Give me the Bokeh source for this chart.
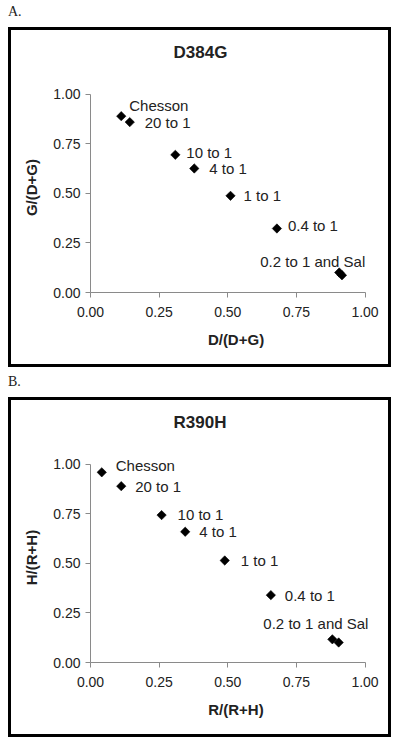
import math
from bokeh.plotting import figure
from bokeh.layouts import column
from bokeh.models import Div, Range1d, FixedTicker, NumeralTickFormatter, ColumnDataSource, LabelSet, Title
from bokeh.core.properties import value
from bokeh.embed import file_html
from bokeh.resources import INLINE

# ---------------- data ----------------
tick_values = [0.0, 0.25, 0.5, 0.75, 1.0]
point_names = ["Chesson", "20 to 1", "10 to 1", "4 to 1", "1 to 1", "0.4 to 1", "0.2 to 1", "Sal"]
point_labels = ["Chesson", "20 to 1", "10 to 1", "4 to 1", "1 to 1", "0.4 to 1", "0.2 to 1 and Sal", ""]

# Panel A: D384G
d_frac = [0.112, 0.143, 0.309, 0.378, 0.510, 0.679, 0.906, 0.916]
g_frac = [0.890, 0.860, 0.695, 0.626, 0.488, 0.323, 0.101, 0.087]

# Panel B: R390H
r_frac = [0.041, 0.112, 0.259, 0.345, 0.489, 0.657, 0.881, 0.904]
h_frac = [0.960, 0.890, 0.744, 0.660, 0.515, 0.340, 0.117, 0.101]

# label offsets in pixels (style, not data); dy positive = up
a_dx = [8, 15, 11, 15, 13, 11, -79, 0]
a_dy = [11, 0, 2, 0, 0, 3, 11, 0]
b_dx = [14, 14, 16, 14, 16, 14, -69, 0]
b_dy = [7, 0, 1, 0, 0, 0, 16, 0]

FONT = "Liberation Sans"
TXT = "#222222"


def make_panel(title, xlab, ylab, xs, ys, dx, dy):
    p = figure(width=383, height=340, output_backend="svg", toolbar_location=None,
               x_range=Range1d(0, 1.06), y_range=Range1d(0, 1.06),
               min_border_left=79, min_border_right=13, min_border_top=52, min_border_bottom=78,
               background_fill_color="white", border_fill_color="white", title=None)
    p.styles = {"border": "3px solid black"}
    p.margin = (0, 0, 0, 0)
    p.outline_line_color = None
    p.xgrid.visible = False
    p.ygrid.visible = False

    spacer = Title(text=" ", text_font_size="2px", standoff=17, text_color="white")
    p.add_layout(spacer, "above")
    t = Title(text=title, align="left", offset=83, standoff=0, text_font=FONT,
              text_font_size="17px", text_font_style="bold", text_color=TXT)
    p.add_layout(t, "above")

    for ax in (p.xaxis[0], p.yaxis[0]):
        ax.ticker = FixedTicker(ticks=tick_values)
        ax.formatter = NumeralTickFormatter(format="0.00")
        ax.bounds = (0, 1)
        ax.axis_line_color = "#8a8a8a"
        ax.major_tick_line_color = "#8a8a8a"
        ax.major_tick_out = 5
        ax.major_tick_in = 0
        ax.minor_tick_line_color = None
        ax.major_label_text_font = FONT
        ax.major_label_text_font_size = "14px"
        ax.major_label_text_color = TXT
        ax.axis_label_text_font = FONT
        ax.axis_label_text_font_size = "15px"
        ax.axis_label_text_font_style = "bold"
        ax.axis_label_text_color = TXT
    p.xaxis.axis_label = xlab
    p.yaxis.axis_label = ylab
    p.xaxis.major_label_standoff = 9
    p.yaxis.major_label_standoff = 5
    p.xaxis.axis_label_standoff = 11
    p.yaxis.axis_label_standoff = 10

    src = ColumnDataSource(dict(x=xs, y=ys, name=point_names, label=point_labels, dx=dx, dy=dy))
    p.scatter("x", "y", source=src, marker="square", size=6.6, angle=math.pi / 4,
              fill_color="black", line_color="black", line_width=0.6)
    labels = LabelSet(x="x", y="y", text="label", source=src, x_offset="dx", y_offset="dy",
                      text_font=value(FONT), text_font_size="15px", text_color=TXT,
                      text_align="left", text_baseline="middle")
    p.add_layout(labels)
    return p


pa = make_panel("D384G", "D/(D+G)", "G/(D+G)", d_frac, g_frac, a_dx, a_dy)
pb = make_panel("R390H", "R/(R+H)", "H/(R+H)", r_frac, h_frac, b_dx, b_dy)

div_style = {"font-family": "Liberation Serif", "font-size": "14px", "color": "#222222",
             "line-height": "14px"}
div_a = Div(text="A.", width=383, height=27, margin=(0, 0, 0, 0),
            styles=dict(div_style, **{"padding-top": "5px"}))
div_b = Div(text="B.", width=383, height=30, margin=(0, 0, 0, 0),
            styles=dict(div_style, **{"padding-top": "8px"}))

layout = column(div_a, pa, div_b, pb, spacing=0, margin=(0, 0, 0, 8))

with open("out.html", "w") as f:
    f.write(file_html(layout, INLINE))
